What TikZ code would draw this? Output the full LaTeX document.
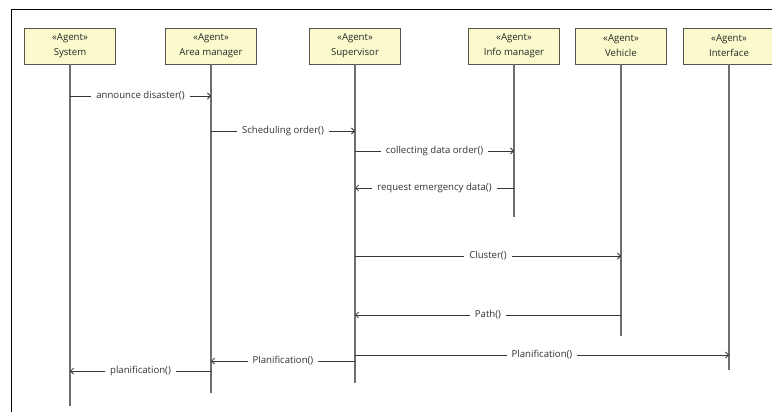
\documentclass[tikz,border=0pt]{standalone}
\usepackage{fontspec}
\setmainfont{Open Sans}
\usetikzlibrary{arrows.meta}
\definecolor{agentfill}{RGB}{250,250,205}
\definecolor{agentdraw}{RGB}{85,85,75}
\definecolor{lifegray}{RGB}{110,110,110}
\definecolor{msggray}{RGB}{55,55,55}
\tikzset{
	agent/.style={draw=agentdraw, fill=agentfill, line width=0.9pt, minimum width=91pt, minimum height=36pt,
		align=center, inner sep=0pt, text=black!85, font=\fontsize{9.6}{15}\selectfont},
	life/.style={draw=lifegray, line width=1.3pt},
	msg/.style={draw=msggray, line width=0.8pt, -{Straight Barb[length=3pt,width=6pt]}},
	lbl/.style={fill=white, inner xsep=5pt, inner ysep=1pt, text=black!80, font=\fontsize{9.6}{11}\selectfont},
}
\begin{document}
\begin{tikzpicture}[x=1pt,y=-1pt]
	\useasboundingbox (0,0) rectangle (772,412);
	% frame
	\draw[line width=0.8pt] (11,412) -- (11,9) -- (772,9);
	% agents and lifelines
	\foreach \nm/\x/\name/\yEnd in {sys/70/System/406, area/211/Area manager/393, sup/355/Supervisor/383,
		info/514/Info manager/217, veh/621/Vehicle/336, gui/729/Interface/370}
	{
		\node[agent] (\nm) at (\x,46) {«Agent»\\\name};
		\coordinate (\nm-end) at (\x,\yEnd);
		\draw[life] (\nm) -- (\nm-end);
	}
	% messages
	\foreach \i/\a/\b/\y/\txt in {1/sys/area/96/announce disaster(), 2/area/sup/131/Scheduling order(),
		3/sup/info/151/collecting data order(), 4/info/sup/188/request emergency data(),
		5/sup/veh/256/Cluster(), 6/veh/sup/315/Path(), 7/sup/gui/355/Planification(),
		8/sup/area/361/Planification(), 9/area/sys/371/planification()}
	{
		\coordinate (row\i) at (0,\y);
		\draw[msg] (\a |- row\i) -- node[lbl] {\txt} (\b |- row\i);
	}
\end{tikzpicture}
\end{document}
